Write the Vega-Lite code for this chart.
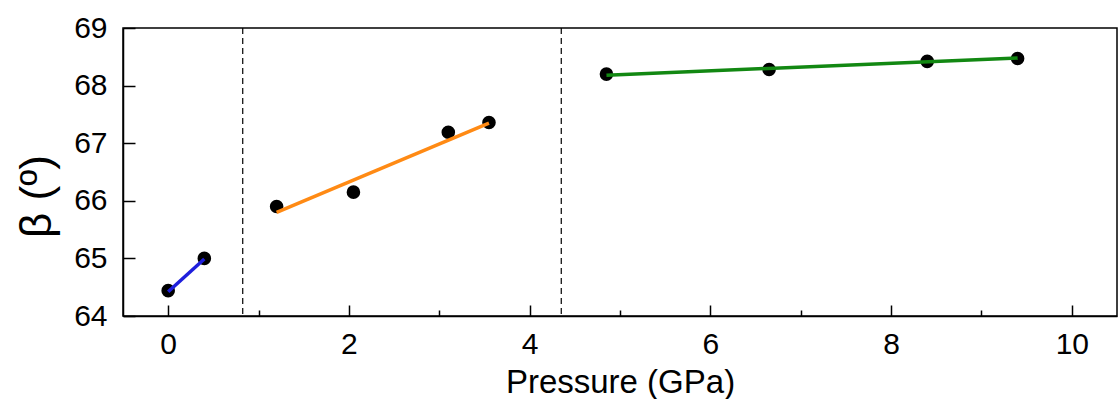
{
  "$schema": "https://vega.github.io/schema/vega-lite/v6.json",
  "width": 994,
  "height": 288,
  "autosize": {"type": "none"},
  "padding": {"left": 123, "top": 28, "right": 1, "bottom": 83},
  "background": "white",
  "config": {
    "font": "Liberation Sans",
    "view": {"stroke": "black", "strokeWidth": 1.5},
    "axis": {"grid": false, "domainColor": "black", "domainWidth": 1.5, "tickColor": "black", "tickWidth": 1.5, "labelColor": "black", "titleColor": "black", "titleFontWeight": "normal"}
  },
  "datasets": {
    "pts": [
      {"p": 0, "b": 64.44},
      {"p": 0.4, "b": 65.0},
      {"p": 1.2, "b": 65.9},
      {"p": 2.05, "b": 66.15},
      {"p": 3.1, "b": 67.19},
      {"p": 3.55, "b": 67.36},
      {"p": 4.85, "b": 68.2},
      {"p": 6.65, "b": 68.28},
      {"p": 8.4, "b": 68.42},
      {"p": 9.4, "b": 68.47}
    ],
    "fits": [
      {"phase": "I", "p": 0, "b": 64.42},
      {"phase": "I", "p": 0.4, "b": 64.99},
      {"phase": "II", "p": 1.2, "b": 65.8},
      {"phase": "II", "p": 3.55, "b": 67.35},
      {"phase": "III", "p": 4.85, "b": 68.18},
      {"phase": "III", "p": 9.4, "b": 68.48}
    ],
    "bounds": [{"p": 0.825}, {"p": 4.35}]
  },
  "layer": [
    {
      "data": {"name": "bounds"},
      "mark": {"type": "rule", "color": "black", "strokeWidth": 1.2, "strokeDash": [6, 4]},
      "encoding": {
        "x": {"field": "p", "type": "quantitative", "scale": {"domain": [-0.5, 10.5], "nice": false, "zero": false},
          "axis": {
            "title": "Pressure (GPa)", "titleFontSize": 33, "titleX": 497, "titleY": 76, "titleBaseline": "alphabetic", "titleAnchor": "middle",
            "values": [0, 1, 2, 3, 4, 5, 6, 7, 8, 9, 10],
            "format": "d",
            "labelFontSize": 30,
            "labelExpr": "datum.value % 2 === 0 ? datum.label : ''",
            "tickSize": {"condition": {"test": "datum.value % 2 === 0", "value": -11}, "value": -6},
            "labelPadding": 24
          }
        }
      }
    },
    {
      "data": {"name": "pts"},
      "mark": {"type": "circle", "color": "black", "opacity": 1, "size": 185},
      "encoding": {
        "x": {"field": "p", "type": "quantitative"},
        "y": {"field": "b", "type": "quantitative", "scale": {"domain": [64, 69], "nice": false, "zero": false},
          "axis": {
            "title": "β (º)", "titleFontSize": 44, "titleX": -86, "titleY": 168, "titleBaseline": "middle", "titleAnchor": "middle",
            "values": [64, 64.5, 65, 65.5, 66, 66.5, 67, 67.5, 68, 68.5, 69],
            "format": "d",
            "labelFontSize": 30,
            "labelExpr": "datum.value % 1 === 0 ? datum.label : ''",
            "tickSize": {"condition": {"test": "datum.value % 1 === 0", "value": -12}, "value": -6},
            "labelPadding": 28
          }
        }
      }
    },
    {
      "data": {"name": "fits"},
      "mark": {"type": "line", "strokeWidth": 3.5},
      "encoding": {
        "x": {"field": "p", "type": "quantitative"},
        "y": {"field": "b", "type": "quantitative"},
        "color": {"field": "phase", "type": "nominal", "legend": null,
          "scale": {"domain": ["I", "II", "III"], "range": ["#1f1fdc", "#ff8a14", "#128812"]}}
      }
    }
  ]
}
